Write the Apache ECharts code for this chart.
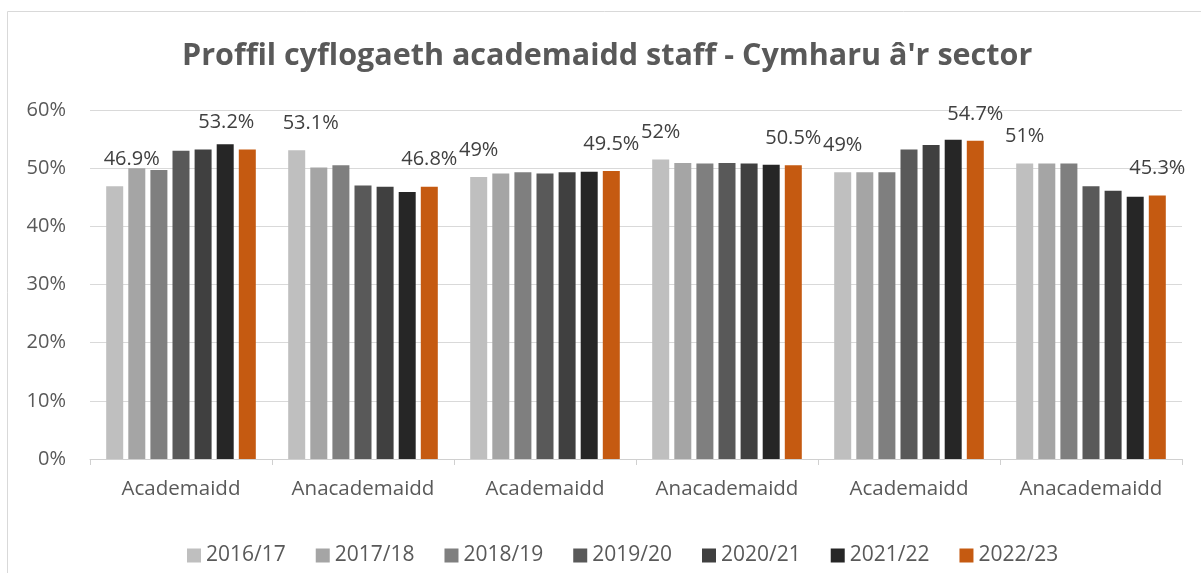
<!DOCTYPE html>
<html>
<head>
<meta charset="utf-8">
<script src="https://cdn.jsdelivr.net/npm/echarts@6/dist/echarts.min.js"></script>
<style>
  html, body { margin: 0; padding: 0; background: #fff; overflow: hidden; }
  #chart { width: 1201px; height: 573px; }
</style>
</head>
<body>
<div id="chart"></div>
<script>
// categories along the x axis
const categories = ['Academaidd', 'Anacademaidd', 'Academaidd', 'Anacademaidd', 'Academaidd', 'Anacademaidd'];
const years = ['2016/17', '2017/18', '2018/19', '2019/20', '2020/21', '2021/22', '2022/23'];

// values in %
const y2016 = [46.9, 53.1, 48.5, 51.5, 49.3, 50.8];
const y2017 = [50.0, 50.1, 49.1, 50.9, 49.3, 50.8];
const y2018 = [49.7, 50.5, 49.3, 50.8, 49.3, 50.8];
const y2019 = [53.0, 47.0, 49.1, 50.9, 53.2, 46.9];
const y2020 = [53.2, 46.8, 49.3, 50.8, 54.0, 46.1];
const y2021 = [54.1, 45.9, 49.4, 50.6, 54.9, 45.1];
const y2022 = [53.2, 46.8, 49.5, 50.5, 54.7, 45.3];

// label texts shown on the first and last year
const firstLabels = ['46.9%', '53.1%', '49%', '52%', '49%', '51%'];
const lastLabels = ['53.2%', '46.8%', '49.5%', '50.5%', '54.7%', '45.3%'];

const yTicks = [0, 10, 20, 30, 40, 50, 60];

const seriesValues = [y2016, y2017, y2018, y2019, y2020, y2021, y2022];
const colors = ['#BFBFBF', '#A5A5A5', '#7F7F7F', '#595959', '#404040', '#262626', '#C55A11'];

const FONT = '"Open Sans", "Noto Sans", sans-serif';
const textColor = '#595959';

// a few labels are nudged sideways in the original
const firstOffsets = { 0: [17, 0], 1: [14, 0] };
const lastOffsets = { 0: [-21, 0] };

function buildData(values, idx) {
  return values.map((v, i) => {
    let labelText = null, offset = [0, 0];
    if (idx === 0) { labelText = firstLabels[i]; offset = firstOffsets[i] || [0, 0]; }
    if (idx === years.length - 1) { labelText = lastLabels[i]; offset = lastOffsets[i] || [0, 0]; }
    if (labelText === null) return v;
    return {
      value: v,
      label: {
        show: true,
        position: 'top',
        distance: 17,
        offset: offset,
        formatter: labelText,
        fontFamily: FONT,
        fontSize: 20,
        color: '#404040'
      }
    };
  });
}

const series = years.map((name, idx) => ({
  name: name,
  type: 'bar',
  barWidth: 17,
  barGap: '30%',
  itemStyle: { color: colors[idx] },
  data: buildData(seriesValues[idx], idx)
}));

const option = {
  animation: false,
  textStyle: { fontFamily: FONT },
  graphic: [{
    type: 'rect',
    shape: { x: 7.5, y: 11.5, width: 1400, height: 800 },
    style: { fill: 'none', stroke: '#D9D9D9', lineWidth: 1 },
    silent: true
  }],
  title: {
    text: "Proffil cyflogaeth academaidd staff - Cymharu â'r sector",
    left: 182,
    top: 41,
    padding: 0,
    textStyle: { fontFamily: FONT, fontWeight: 'bold', fontSize: 30.5, color: textColor }
  },
  legend: {
    data: years,
    left: 182,
    top: 540,
    itemWidth: 14,
    itemHeight: 14,
    itemGap: 30,
    icon: 'rect',
    textStyle: { fontFamily: FONT, fontSize: 21, color: textColor, padding: [0, 0, 0, 0] }
  },
  grid: { left: 90, right: 19, top: 110, bottom: 114, containLabel: false },
  xAxis: {
    type: 'category',
    data: categories,
    axisLine: { lineStyle: { color: '#D0D0D0', width: 1 } },
    axisTick: { show: true, length: 6, lineStyle: { color: '#D0D0D0' } },
    axisLabel: { fontFamily: FONT, fontSize: 20.5, color: textColor, margin: 20, interval: 0 }
  },
  yAxis: {
    type: 'value',
    min: yTicks[0],
    max: yTicks[yTicks.length - 1],
    interval: 10,
    axisLine: { show: false },
    axisTick: { show: false },
    splitLine: { lineStyle: { color: '#D9D9D9', width: 1 } },
    axisLabel: { fontFamily: FONT, fontSize: 20, color: textColor, margin: 24, formatter: '{value}%' }
  },
  series: series
};

const chart = echarts.init(document.getElementById('chart'), null, { renderer: 'canvas' });
chart.setOption(option);
</script>
</body>
</html>
